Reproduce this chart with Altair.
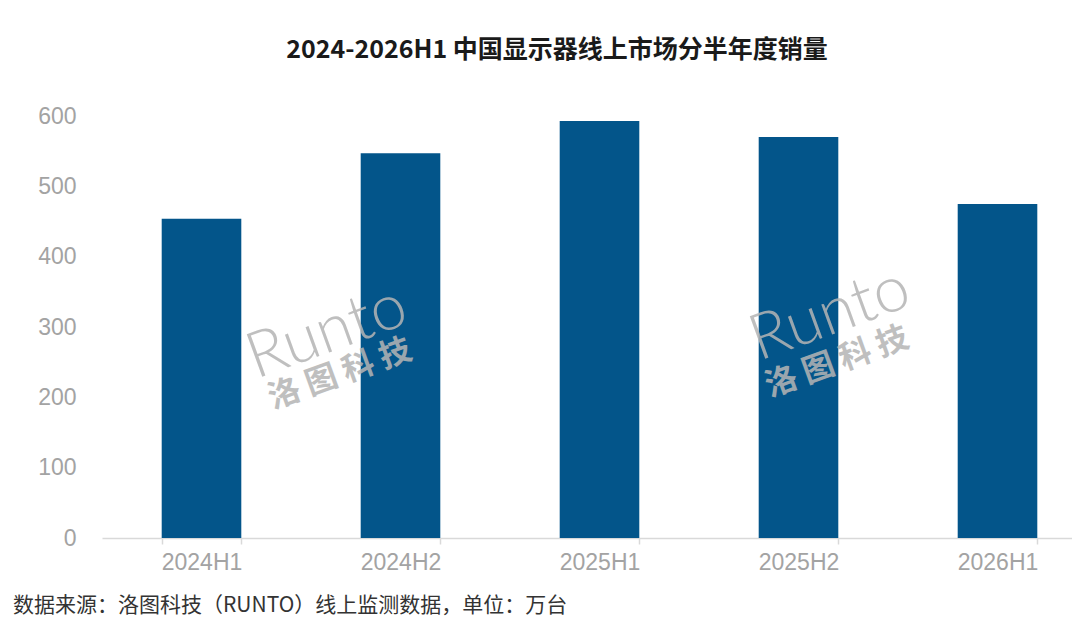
import altair as alt
import pandas as pd

periods = ["2024H1", "2024H2", "2025H1", "2025H2", "2026H1"]
sales = [454, 547, 593, 570, 475]
y_ticks = [0, 100, 200, 300, 400, 500, 600]
title_text = "2024-2026H1 中国显示器线上市场分半年度销量"
source_text = "数据来源：洛图科技（RUNTO）线上监测数据，单位：万台"
wm_en = "Runto"
wm_cn = "洛 图 科 技"

df = pd.DataFrame({"period": periods, "sales": sales})

W, H = 970, 422
BAR_COLOR = "#03558a"
LABEL_GREY = "#a3a3a3"

bars = alt.Chart(df).mark_bar(color=BAR_COLOR).encode(
    x=alt.X(
        "period:N",
        sort=periods,
        title=None,
        scale=alt.Scale(range=[0, 995], paddingInner=0.6, paddingOuter=0.3),
        axis=alt.Axis(
            labelAngle=0,
            labelFont="Liberation Sans",
            labelFontSize=23,
            labelColor=LABEL_GREY,
            labelPadding=7,
            domainColor="#d9d9d9",
            domainWidth=1.5,
            tickColor="#d9d9d9",
            tickWidth=1.5,
            tickSize=6,
            tickBand="extent",
            grid=False,
        ),
    ),
    y=alt.Y(
        "sales:Q",
        title=None,
        scale=alt.Scale(domain=[0, 600], nice=False),
        axis=alt.Axis(
            values=y_ticks,
            labelFont="Liberation Sans",
            labelFontSize=23,
            labelColor=LABEL_GREY,
            labelPadding=26,
            ticks=False,
            domain=False,
            grid=False,
        ),
    ),
)


def text_layer(txt, x, y, **kw):
    return alt.Chart(pd.DataFrame({"t": [txt]})).mark_text(**kw).encode(
        x=alt.value(x), y=alt.value(y), text="t:N"
    )


title = text_layer(title_text, 455, -66, font="Noto Sans CJK SC", fontSize=25,
                   fontWeight="bold", color="#1a1a1a", align="center", baseline="middle")
source = text_layer(source_text, -89, 490, font="Noto Sans CJK SC", fontSize=21,
                    color="#333333", align="left", baseline="middle")

wm_style_en = dict(font="Lato", fontSize=64, fontWeight=300, color="#b5b5b5", opacity=0.85,
                   angle=340, align="center", baseline="middle")
wm_style_cn = dict(font="Noto Sans CJK SC", fontSize=32, fontWeight="bold", color="#b5b5b5",
                   opacity=0.85, angle=340, align="center", baseline="middle")

wm1a = text_layer(wm_en, 225, 217, **wm_style_en)
wm1b = text_layer(wm_cn, 238, 258, **wm_style_cn)
wm2a = text_layer(wm_en, 728, 199, **wm_style_en)
wm2b = text_layer(wm_cn, 735, 246, **wm_style_cn)

chart = alt.layer(bars, wm1a, wm1b, wm2a, wm2b, title, source).properties(
    width=W,
    height=H,
    autosize=alt.AutoSizeParams(type="none"),
    padding={"left": 94, "top": 108, "right": 0, "bottom": 98},
    background="white",
).configure_view(stroke=None)

chart.save("out.html", embed_options={"renderer": "svg", "actions": False})
